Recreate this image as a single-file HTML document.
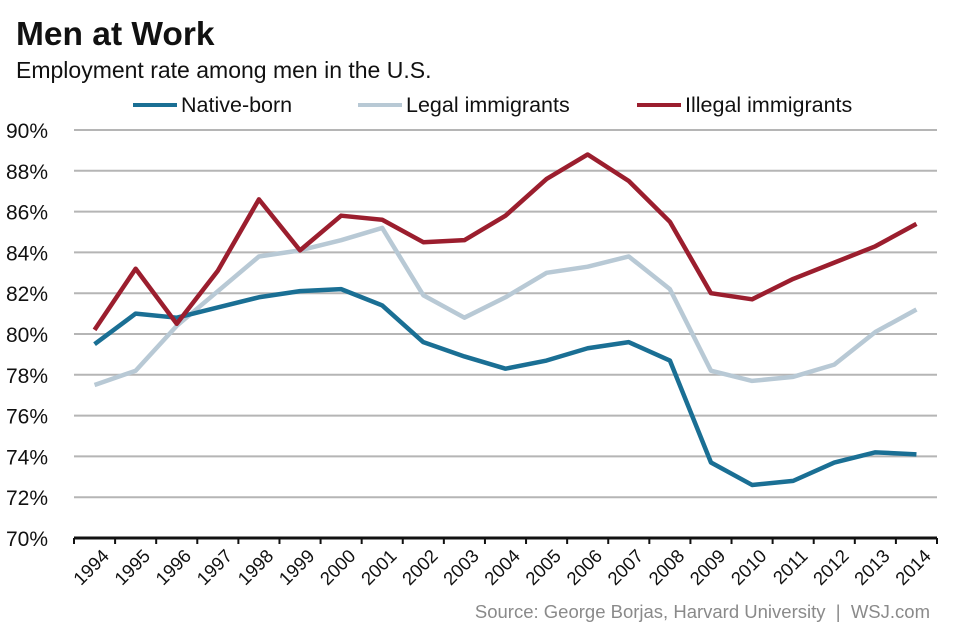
<!DOCTYPE html>
<html><head><meta charset="utf-8"><style>
body{margin:0;background:#fff;font-family:"Liberation Sans",Arial,sans-serif;}
#c{position:relative;width:959px;height:639px;overflow:hidden;}
</style></head><body>
<div id="c">
<svg id="s" width="959" height="639" xmlns="http://www.w3.org/2000/svg">
<text x="16" y="45" font-size="33.5" font-weight="bold" fill="#111">Men at Work</text>
<text x="16" y="78" font-size="23" fill="#111">Employment rate among men in the U.S.</text>
<g>
<g><line x1="133" y1="105" x2="177" y2="105" stroke="#1a6f94" stroke-width="4"/><text x="181" y="112" font-size="21.5" fill="#111">Native-born</text></g>
<g><line x1="358" y1="105" x2="402" y2="105" stroke="#b8c9d5" stroke-width="4"/><text x="406" y="112" font-size="21.5" fill="#111">Legal immigrants</text></g>
<g><line x1="637" y1="105" x2="681" y2="105" stroke="#9b1e2e" stroke-width="4"/><text x="685" y="112" font-size="21.5" fill="#111">Illegal immigrants</text></g>
</g>
<g id="grid"></g><g id="series"></g><g id="axis"></g>
<text x="930" y="618" font-size="18.5" fill="#8a8a8a" text-anchor="end" xml:space="preserve">Source: George Borjas, Harvard University  |  WSJ.com</text>
</svg>
</div>
<script>
const years=[1994,1995,1996,1997,1998,1999,2000,2001,2002,2003,2004,2005,2006,2007,2008,2009,2010,2011,2012,2013,2014];
const yTicks=[70,72,74,76,78,80,82,84,86,88,90];
const nativeBorn=[79.5,81.0,80.8,81.3,81.8,82.1,82.2,81.4,79.6,78.9,78.3,78.7,79.3,79.6,78.7,73.7,72.6,72.8,73.7,74.2,74.1];
const legalImm=[77.5,78.2,80.4,82.1,83.8,84.1,84.6,85.2,81.9,80.8,81.8,83.0,83.3,83.8,82.2,78.2,77.7,77.9,78.5,80.1,81.2];
const illegalImm=[80.2,83.2,80.5,83.1,86.6,84.1,85.8,85.6,84.5,84.6,85.8,87.6,88.8,87.5,85.5,82.0,81.7,82.7,83.5,84.3,85.4];
const NS='http://www.w3.org/2000/svg';
const x0=74,x1=937,yTop=130,yBot=538,vMin=70,vMax=90;
const bw=(x1-x0)/years.length;
function xs(i){return x0+bw*(i+0.5);}
function ys(v){return yBot-(v-vMin)/(vMax-vMin)*(yBot-yTop);}
function mk(t,a,p){const e=document.createElementNS(NS,t);for(const k in a)e.setAttribute(k,a[k]);p.appendChild(e);return e;}
const grid=document.getElementById('grid'),series=document.getElementById('series'),axis=document.getElementById('axis');
yTicks.forEach(v=>{
  if(v>vMin){const l=mk('line',{x1:x0,x2:x1,y1:ys(v),y2:ys(v),stroke:'#b5b5b5','stroke-width':2},grid);
  
  }
  const t=mk('text',{x:6,y:ys(v)+8,'font-size':21,fill:'#111'},grid);
  t.textContent=v+'%';
  
  
});
const al=mk('line',{x1:x0,x2:x1,y1:yBot,y2:yBot,stroke:'#111','stroke-width':3},axis);


for(let i=0;i<=years.length;i++){
  const tk=mk('line',{x1:x0+bw*i,x2:x0+bw*i,y1:yBot,y2:yBot+6,stroke:'#111','stroke-width':2},axis);
  
  
}
years.forEach((y,i)=>{
  const cx=x0+bw*i+27,cy=yBot+10;
  const t=mk('text',{x:cx,y:cy,'font-size':18.5,fill:'#111','text-anchor':'end',transform:`rotate(-45 ${cx} ${cy})`,dy:'0.7em'},axis);
  t.textContent=y;
  
  
});
function line(data,color,name){
  const p=mk('polyline',{points:data.map((v,i)=>xs(i)+','+ys(v)).join(' '),fill:'none',stroke:color,'stroke-width':4.5,'stroke-linejoin':'round'},series);
  
  
}
line(legalImm,'#b8c9d5','legal-immigrants-line');
line(nativeBorn,'#1a6f94','native-born-line');
line(illegalImm,'#9b1e2e','illegal-immigrants-line');
</script>
</body></html>
